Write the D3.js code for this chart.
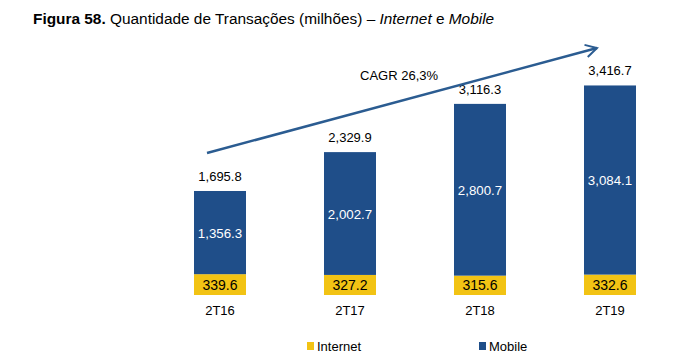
<!DOCTYPE html>
<html><head><meta charset="utf-8">
<script src="https://cdn.jsdelivr.net/npm/d3@7/dist/d3.min.js"></script>
<style>body{margin:0;background:#fff}svg{display:block;font-family:"Liberation Sans",Arial,sans-serif}</style>
</head><body>
<script>
const categories = ["2T16","2T17","2T18","2T19"];
const internet = [339.6, 327.2, 315.6, 332.6];
const mobile = [1356.3, 2002.7, 2800.7, 3084.1];
const totals = [1695.8, 2329.9, 3116.3, 3416.7];
const seriesNames = ["Internet","Mobile"];
const cagrLabel = "CAGR 26,3%";

const W = 686, H = 363;
const colors = {Internet:"#F2C314", Mobile:"#1F4E89"};
const svg = d3.select("body").append("svg").attr("width",W).attr("height",H);

// title
const t = svg.append("text").attr("x",33).attr("y",24).attr("font-size",15.4).attr("fill","#000");
t.append("tspan").attr("font-weight","bold").text("Figura 58.");
t.append("tspan").text(" Quantidade de Transações (milhões) – ");
t.append("tspan").attr("font-style","italic").text("Internet");
t.append("tspan").text(" e ");
t.append("tspan").attr("font-style","italic").text("Mobile");

const x = d3.scaleBand().domain(categories).range([155,675]).paddingInner(0.6).paddingOuter(0.3);
const y = d3.scaleLinear().domain([0,1695.8]).range([295,191]);
const fmt = d3.format(",.1f");

const data = categories.map((c,i)=>({cat:c, Internet:internet[i], Mobile:mobile[i], total:totals[i]}));
const stack = d3.stack().keys(seriesNames)(data);

const g = svg.append("g");
stack.forEach(s=>{
  g.selectAll(null).data(s).join("rect")
    .attr("x",d=>x(d.data.cat)).attr("width",x.bandwidth())
    .attr("y",d=>y(d[1])).attr("height",d=>y(d[0])-y(d[1]))
    .attr("fill",colors[s.key]);
  g.selectAll(null).data(s).join("text")
    .attr("x",d=>x(d.data.cat)+x.bandwidth()/2)
    .attr("y",d=>(y(d[0])+y(d[1]))/2+5)
    .attr("text-anchor","middle").attr("font-size",s.key==="Internet"?14:13.3)
    .attr("fill",s.key==="Internet"?"#000":"#fff")
    .text(d=>fmt(d.data[s.key]));
});
// totals
g.selectAll(null).data(data).join("text")
  .attr("x",d=>x(d.cat)+x.bandwidth()/2).attr("y",d=>y(d.total)-10)
  .attr("text-anchor","middle").attr("font-size",13).attr("fill","#000")
  .text(d=>fmt(d.total));
// categories
const xAxis = svg.append("g").attr("transform","translate(0,295)")
  .call(d3.axisBottom(x).tickSize(0).tickPadding(11));
xAxis.select(".domain").remove();
xAxis.selectAll("text").attr("font-size",13).attr("fill","#000").attr("font-family","Liberation Sans, Arial, sans-serif");

// arrow
svg.append("defs").append("marker").attr("id","arr").attr("viewBox","0 0 12 12")
  .attr("refX",10).attr("refY",6).attr("markerWidth",6).attr("markerHeight",6)
  .attr("markerUnits","strokeWidth").attr("orient","auto")
  .append("path").attr("d","M1,1 L10,6 L1,11").attr("fill","none").attr("stroke","#2B5C91").attr("stroke-width",1.6);
svg.append("line").attr("x1",207).attr("y1",153).attr("x2",597).attr("y2",48)
  .attr("stroke","#2B5C91").attr("stroke-width",2.5).attr("marker-end","url(#arr)");
svg.append("text").attr("x",360).attr("y",80).attr("font-size",13).attr("fill","#000").text(cagrLabel);

// legend
const leg = svg.append("g");
const lx = [307, 479];
seriesNames.forEach((n,i)=>{
  leg.append("rect").attr("x",lx[i]).attr("y",342).attr("width",7).attr("height",8).attr("fill",colors[n]);
  leg.append("text").attr("x",lx[i]+10).attr("y",351).attr("font-size",13).attr("fill","#000").text(n);
});
</script>
</body></html>
